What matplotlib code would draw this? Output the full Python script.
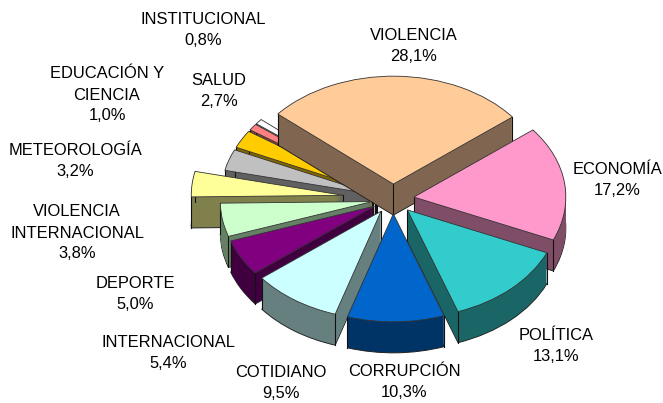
import math
import matplotlib
matplotlib.use("Agg")
import matplotlib.pyplot as plt

names = ["VIOLENCIA", "ECONOMÍA", "POLÍTICA", "CORRUPCIÓN", "COTIDIANO", "INTERNACIONAL",
         "DEPORTE", "VIOLENCIA\nINTERNACIONAL", "METEOROLOGÍA", "SALUD", "EDUCACIÓN Y\nCIENCIA",
         "INSTITUCIONAL"]
values = [28.1, 17.2, 13.1, 10.3, 9.5, 5.4, 5.0, 3.8, 3.2, 2.7, 1.0, 0.8]

top_colors = ["#FFCC99", "#FF99CC", "#33CCCC", "#0066CC", "#CCFFFF", "#800080",
              "#CCFFCC", "#FFFF99", "#C0C0C0", "#FFCC00", "#FF8080", "#FFFFFF"]
side_colors = ["#806650", "#804D66", "#1A6666", "#003366", "#668080", "#400040",
               "#668066", "#80804D", "#606060", "#806600", "#804040", "#808080"]

# layout, in pixels of the 663x403 picture
cx, cy = 393, 199
radius = 152
squash = 0.71
depth = 31
explode = [21, 21, 21, 21, 21, 21, 21, 50, 21, 21, 21, 21]
paint_rank = [4, 9, 10, 11, 8, 7, 6, 5, 3, 2, 1, 0]
label_xy = [(414, 46), (617, 180), (556, 346), (404, 382), (281, 383), (168, 353),
            (135, 294), (77, 233), (75, 161), (219, 91), (107, 95), (203, 30)]

fig = plt.figure(figsize=(6.63, 4.03), dpi=100)
ax = fig.add_axes([0, 0, 1, 1])


def draw_layer(offset, colors, edge, lw, z_add):
    wedges, _ = ax.pie(values, explode=explode, colors=colors, radius=radius, startangle=139.5,
                       counterclock=False, center=(0, -offset / squash),
                       wedgeprops={"edgecolor": edge, "linewidth": lw})
    for w, r in zip(wedges, paint_rank):
        w.set_zorder(r * 10 + z_add)
    return wedges


# side walls: the same pie stacked downwards, bottom layer first
for d in range(depth, 0, -1):
    if d == depth:
        draw_layer(d, side_colors, "#222222", 0.7, 1)
    else:
        draw_layer(d, side_colors, "none", 0, 2)

top = draw_layer(0, top_colors, "#333333", 0.6, 6)

# vertical edges at the corners of each slice
for w, r in zip(top, paint_rank):
    x0, y0 = w.center
    corners = [(x0, y0)]
    for a in (w.theta1, w.theta2):
        corners.append((x0 + radius * math.cos(math.radians(a)), y0 + radius * math.sin(math.radians(a))))
    for x, y in corners:
        ax.plot([x, x], [y, y - depth / squash], color="#111111", lw=0.8, zorder=r * 10 + 5)

ax.set_aspect("auto")
ax.set_xlim(-cx, 663 - cx)
ax.set_ylim((cy - 403) / squash, cy / squash)
ax.axis("off")

for name, value, (px, py) in zip(names, values, label_xy):
    text = name + "\n" + f"{value:.1f}".replace(".", ",") + "%"
    ax.text(px, 403 - py, text, transform=None, ha="center", va="center", fontsize=11.9,
            family="Liberation Sans", color="black", linespacing=1.5, zorder=200)

fig.savefig("out.png", dpi=100)
